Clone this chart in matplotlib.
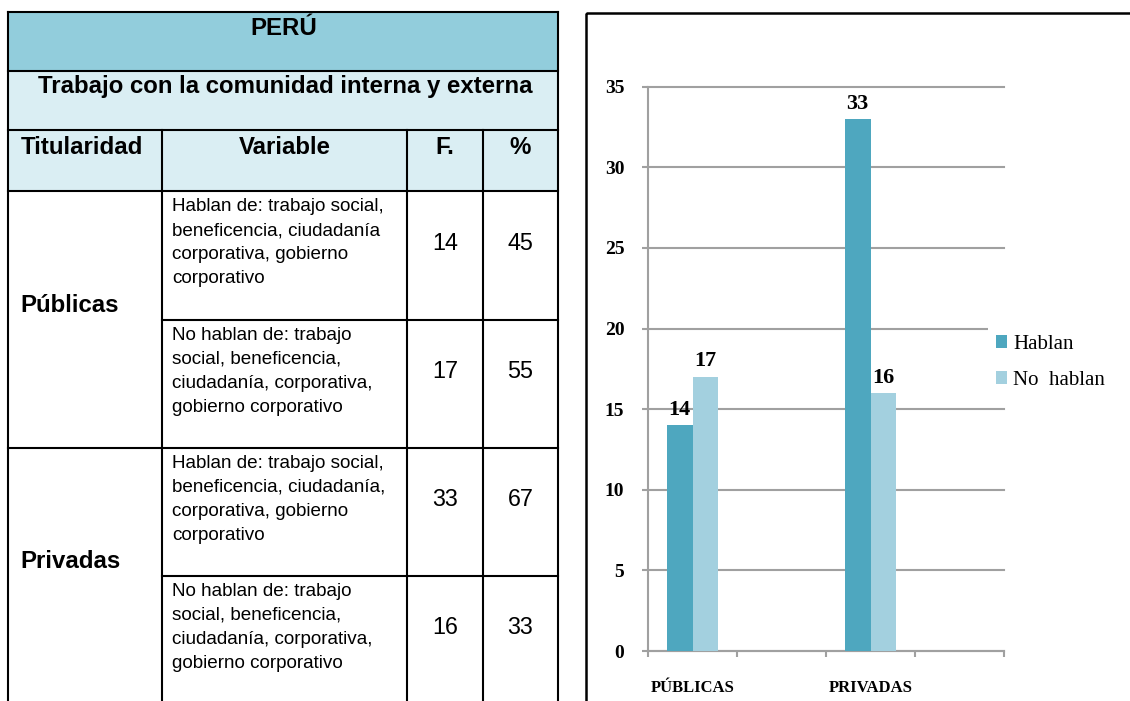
import matplotlib
matplotlib.use("Agg")
import matplotlib.pyplot as plt
import numpy as np
from matplotlib.patches import Rectangle

# Datos de la tabla
pais = "PERÚ"
subtitulo = "Trabajo con la comunidad interna y externa"
encabezados = ["Titularidad", "Variable", "F.", "%"]
titularidad = ["Públicas", "Privadas"]
variables = [
    "Hablan de: trabajo social,\nbeneficencia, ciudadanía\ncorporativa, gobierno\ncorporativo",
    "No hablan de: trabajo\nsocial, beneficencia,\nciudadanía, corporativa,\ngobierno corporativo",
    "Hablan de: trabajo social,\nbeneficencia, ciudadanía,\ncorporativa, gobierno\ncorporativo",
    "No hablan de: trabajo\nsocial, beneficencia,\nciudadanía, corporativa,\ngobierno corporativo",
]
frecuencias = [14, 17, 33, 16]
porcentajes = [45, 55, 67, 33]

# Datos del gráfico
categorias = ["PÚBLICAS", "", "PRIVADAS", ""]
hablan = [14, np.nan, 33, np.nan]
no_hablan = [17, np.nan, 16, np.nan]
series = ["Hablan", "No  hablan"]

SANS = "Liberation Sans"
SERIF = "Liberation Serif"
C_HABLAN = "#4EA7BF"
C_NO = "#A3D0DF"
GRIS = "#A0A0A0"

W, H = 1130, 701
fig = plt.figure(figsize=(W / 100, H / 100), dpi=100)

# capa de fondo en pixeles (y hacia abajo) para la tabla y el marco
bg = fig.add_axes([0, 0, 1, 1])
bg.set_xlim(0, W)
bg.set_ylim(H, 0)
bg.axis("off")

col_x = [8.3, 161.7, 407.3, 482.7, 558.3]
row_y = [12.3, 70.7, 130, 190.7, 319.5, 447.5, 575.5, 704]

bg.add_patch(Rectangle((col_x[0], row_y[0]), col_x[-1] - col_x[0], row_y[1] - row_y[0],
                       facecolor="#92CDDC", edgecolor="none"))
bg.add_patch(Rectangle((col_x[0], row_y[1]), col_x[-1] - col_x[0], row_y[3] - row_y[1],
                       facecolor="#DAEEF3", edgecolor="none"))

lk = dict(color="black", lw=1.5, solid_capstyle="projecting")
for y in [row_y[0], row_y[1], row_y[2], row_y[3], row_y[5], row_y[7]]:
    bg.plot([col_x[0], col_x[-1]], [y, y], **lk)
for y in [row_y[4], row_y[6]]:
    bg.plot([col_x[1], col_x[-1]], [y, y], **lk)
for x in [col_x[0], col_x[-1]]:
    bg.plot([x, x], [row_y[0], row_y[-1]], **lk)
for x in col_x[1:4]:
    bg.plot([x, x], [row_y[2], row_y[-1]], **lk)

cx = (col_x[0] + col_x[-1]) / 2
bg.text(cx, 35, pais, family=SANS, weight="bold", size=17.3, ha="center", va="baseline")
bg.text(cx + 2, 93.3, subtitulo, family=SANS, weight="bold", size=17.3, ha="center", va="baseline")
bg.text(20.7, 154, encabezados[0], family=SANS, weight="bold", size=17.3, ha="left", va="baseline")
for i in range(1, 4):
    bg.text((col_x[i] + col_x[i + 1]) / 2, 154, encabezados[i], family=SANS, weight="bold",
            size=17.3, ha="center", va="baseline")

for g, nombre in enumerate(titularidad):
    top = row_y[3 + 2 * g]
    bg.text(20.7, top + 121, nombre, family=SANS, weight="bold", size=17.3, ha="left", va="baseline")

for r in range(4):
    top = row_y[3 + r]
    for k, linea in enumerate(variables[r].split("\n")):
        bg.text(172, top + 20.5 + 24 * k, linea, family=SANS, size=13.6, ha="left", va="baseline")
    bg.text((col_x[2] + col_x[3]) / 2, top + 59, str(frecuencias[r]), family=SANS, size=16.8,
            ha="center", va="baseline")
    bg.text((col_x[3] + col_x[4]) / 2, top + 59, str(porcentajes[r]), family=SANS, size=16.8,
            ha="center", va="baseline")

# marco del gráfico (cortado a la derecha y abajo)
bg.add_patch(Rectangle((585.5, 12.5), 700, 800, fill=False, edgecolor="black", lw=1.8))

# gráfico de barras
x0, x1, y0, y35 = 648, 1004, 651, 86.7
ax = fig.add_axes([x0 / W, (H - y0) / H, (x1 - x0) / W, (y0 - y35) / H])
ax.set_facecolor("none")

x = np.arange(len(categorias))
w = 0.287
h1 = np.array(hablan, dtype=float)
h2 = np.array(no_hablan, dtype=float)
m1 = ~np.isnan(h1)
m2 = ~np.isnan(h2)
b1 = ax.bar(x[m1] - w / 2, h1[m1], w, color=C_HABLAN, label=series[0], zorder=3)
b2 = ax.bar(x[m2] + w / 2, h2[m2], w, color=C_NO, label=series[1], zorder=3)

for xs, vals in [(x[m1] - w / 2, h1[m1]), (x[m2] + w / 2, h2[m2])]:
    for xi, v in zip(xs, vals):
        ax.annotate(f"{v:.0f}", (xi, v), xytext=(0, 7.5), textcoords="offset points",
                    ha="center", va="baseline", family=SERIF, weight="bold", size=16)

ax.set_xlim(-0.5, len(categorias) - 0.5)
ax.set_ylim(0, 35)
ax.set_yticks(range(0, 36, 5))
ax.set_xticks(x)
ax.set_xticklabels(categorias)
ax.set_xticks(np.arange(-0.5, len(categorias), 1), minor=True)

ax.yaxis.grid(True, color=GRIS, lw=1.5)
for gl in ax.get_ygridlines():
    gl.set_clip_on(False)
ax.set_axisbelow(True)

for s in ["top", "right"]:
    ax.spines[s].set_visible(False)
for s in ["left", "bottom"]:
    ax.spines[s].set_color(GRIS)
    ax.spines[s].set_linewidth(1.5)

ax.tick_params(axis="y", length=4.3, width=1.5, color=GRIS, pad=12.7, labelsize=14)
ax.tick_params(axis="x", which="major", length=0, pad=21, labelsize=12)
ax.tick_params(axis="x", which="minor", length=4.3, width=1.5, color=GRIS)
for lab in ax.get_yticklabels() + ax.get_xticklabels():
    lab.set_fontfamily(SERIF)
    lab.set_fontweight("bold")

leg = ax.legend(loc="center left", bbox_to_anchor=(988 / W, (H - 362.5) / H),
                bbox_transform=fig.transFigure, prop={"family": SERIF, "size": 15},
                frameon=True, fancybox=False, framealpha=1, borderaxespad=0,
                borderpad=0.4, handlelength=0.53, handleheight=0.58, handletextpad=0.29,
                labelspacing=0.8)
leg.get_frame().set_edgecolor("none")
leg.get_frame().set_facecolor("white")

fig.savefig("out.png", dpi=100)
